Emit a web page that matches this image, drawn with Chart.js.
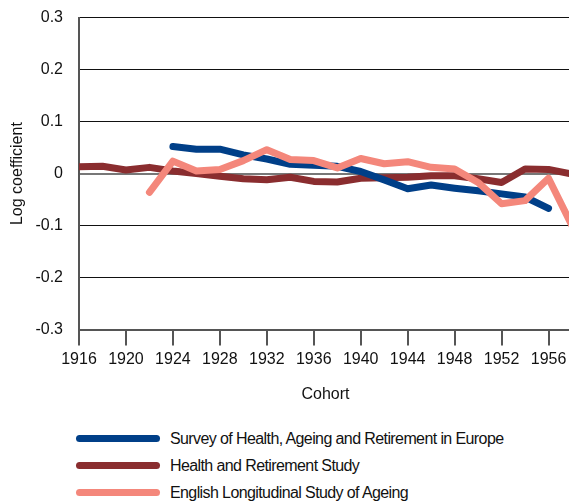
<!DOCTYPE html>
<html>
<head>
<meta charset="utf-8">
<script src="https://cdn.jsdelivr.net/npm/chart.js@4/dist/chart.umd.min.js"></script>
<style>
  html, body { margin: 0; padding: 0; background: #fff; overflow: hidden; }
  body { width: 569px; height: 501px; position: relative; font-family: "Liberation Sans", sans-serif; }
  #wrap { position: absolute; left: 0; top: -8px; width: 572px; height: 420px; }
  #legend { position: absolute; left: 76px; top: 425px; }
  .item { height: 27px; display: flex; align-items: center; font-size: 16px; letter-spacing: -0.6px; color: #111; }
  .swatch { width: 84px; height: 7px; border-radius: 4px; margin-right: 10px; }
</style>
</head>
<body>
<div id="wrap"><canvas id="chart"></canvas></div>
<div id="legend"></div>
<script>
const cohorts = [1916, 1918, 1920, 1922, 1924, 1926, 1928, 1930, 1932, 1934, 1936, 1938,
                 1940, 1942, 1944, 1946, 1948, 1950, 1952, 1954, 1956, 1958];

const share = [null, null, null, null, 0.052, 0.047, 0.047, 0.036, 0.028, 0.018, 0.016, 0.014,
               0.004, -0.012, -0.029, -0.022, -0.028, -0.033, -0.039, -0.045, -0.067, null];
const hrs = [0.013, 0.014, 0.007, 0.012, 0.005, 0.0, -0.005, -0.01, -0.012, -0.007, -0.015, -0.016,
             -0.009, -0.008, -0.007, -0.004, -0.004, -0.01, -0.017, 0.009, 0.008, -0.001];
const elsa = [null, null, null, -0.036, 0.024, 0.005, 0.008, 0.025, 0.046, 0.027, 0.025, 0.011,
              0.029, 0.019, 0.023, 0.012, 0.009, -0.017, -0.058, -0.052, -0.009, -0.1];

const seriesNames = ["Survey of Health, Ageing and Retirement in Europe", "Health and Retirement Study", "English Longitudinal Study of Ageing"];
const colors = ["#003f88", "#8a2d2f", "#f4877b"];

const xTicks = [1916, 1920, 1924, 1928, 1932, 1936, 1940, 1944, 1948, 1952, 1956];
const yTicks = [-0.3, -0.2, -0.1, 0, 0.1, 0.2, 0.3];

const font = { family: "'Liberation Sans', sans-serif", size: 16 };

function pts(vals) {
  return cohorts.map((c, i) => ({ x: c, y: vals[i] }));
}

const values = [share, hrs, elsa];
const drawOrder = [1, 2, 0];

const ctx = document.getElementById("chart").getContext("2d");
const chart = new Chart(ctx, {
  type: "line",
  data: {
    datasets: values.map((v, i) => ({
      label: seriesNames[i],
      data: pts(v),
      borderColor: colors[i],
      backgroundColor: colors[i],
      borderWidth: 7,
      borderCapStyle: "round",
      borderJoinStyle: "round",
      pointRadius: 0,
      tension: 0,
      spanGaps: false,
      order: drawOrder[i]
    }))
  },
  options: {
    responsive: true,
    maintainAspectRatio: false,
    animation: false,
    layout: { padding: { top: 2, right: 0, left: 0, bottom: 4 } },
    plugins: { legend: { display: false }, tooltip: { enabled: false } },
    scales: {
      x: {
        type: "linear",
        min: 1916,
        max: 1958,
        afterBuildTicks: axis => { axis.ticks = xTicks.map(v => ({ value: v })); },
        ticks: { font: font, color: "#111", padding: 4, maxRotation: 0, callback: v => String(v) },
        grid: { drawOnChartArea: false, drawTicks: true, tickLength: 16, color: "#555", lineWidth: 2 },
        border: { color: "#555", width: 2 },
        title: { display: true, text: "Cohort", font: font, color: "#111", padding: { top: 12 } }
      },
      y: {
        min: -0.3,
        max: 0.3,
        afterBuildTicks: axis => { axis.ticks = yTicks.map(v => ({ value: v })); },
        afterFit: axis => { axis.width = 79; },
        ticks: {
          font: font, color: "#111", padding: 16,
          callback: v => (Math.abs(v) < 1e-9 ? "0" : v.toFixed(1))
        },
        grid: {
          drawTicks: false,
          color: c => (Math.abs(c.tick.value) < 1e-9 ? "#777" : (c.tick.value < -0.29 ? "#555" : "#111")),
          lineWidth: c => (Math.abs(c.tick.value) < 1e-9 ? 2 : (c.tick.value < -0.29 ? 2 : 1))
        },
        border: { color: "#555", width: 2 },
        title: { display: true, text: "Log coefficient", font: font, color: "#111", padding: { top: 8, bottom: 0 } }
      }
    }
  }
});

const legend = document.getElementById("legend");
seriesNames.forEach((name, i) => {
  const row = document.createElement("div");
  row.className = "item";
  row.innerHTML = `<span class="swatch" style="background:${colors[i]}"></span><span>${name}</span>`;
  legend.appendChild(row);
});
</script>
</body>
</html>
